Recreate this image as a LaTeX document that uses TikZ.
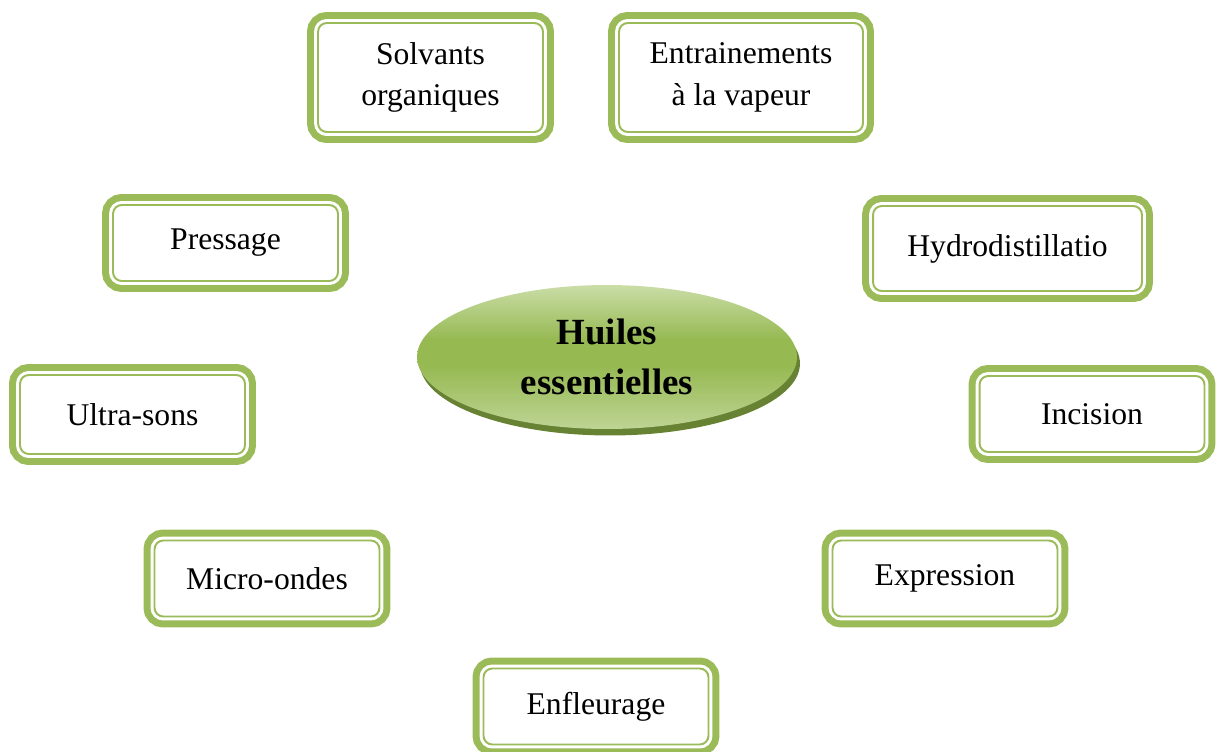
\documentclass[tikz,border=0pt]{standalone}
\usepackage{fontspec}
\setmainfont{Liberation Serif}
\usepackage{xcolor}
\usetikzlibrary{shapes.geometric,shadows,positioning}
\definecolor{vert}{RGB}{155,187,89}
\definecolor{vertmilieu}{RGB}{150,185,82}
\definecolor{vertclair}{RGB}{202,221,167}
\definecolor{vertbas}{RGB}{190,212,148}
\definecolor{vertfonce}{RGB}{104,130,52}
\pgfdeclareverticalshading{huile}{100bp}{color(0bp)=(vertbas); color(25bp)=(vertbas); color(47bp)=(vertmilieu); color(56bp)=(vertmilieu); color(75bp)=(vertclair); color(100bp)=(vertclair)}

\begin{document}
\begin{tikzpicture}[x=0.02cm, y=-0.02cm]
	\tikzstyle{methode} = [rectangle, rounded corners=5pt, draw=vert, line width=1.1pt, fill=white, align=center, font=\fontsize{18}{23.5}\selectfont, minimum width=4.5cm, minimum height=1.52cm, preaction={draw=vert, line width=12.5pt}, preaction={draw=white, line width=4.5pt}]
	\tikzstyle{centre} = [ellipse, align=center, shading=huile, font=\bfseries\fontsize{21}{28.5}\selectfont, minimum width=7.6cm, minimum height=2.88cm, drop shadow={shadow xshift=0.06cm, shadow yshift=-0.13cm, fill=vertfonce, opacity=1}]

\useasboundingbox (0,0) rectangle (1217,751);
\clip (0,0) rectangle (1217,751);

\node[centre] (0) at (607, 357) {Huiles\\essentielles};

\node[methode, minimum height=2.18cm] (1) at (430.5, 77.5) {Solvants\\organiques};
\node[methode, minimum width=4.88cm, minimum height=2.18cm] (2) at (741, 77.5) {Entrainements\\à la vapeur};
\node[methode] (3) at (225.5, 243) {Pressage};
\node[methode, minimum width=5.38cm, minimum height=1.7cm] (4) at (1007.5, 248.5) {Hydrodistillatio};
\node[methode, minimum height=1.58cm] (5) at (132.5, 414.5) {Ultra-sons};
\node[methode, minimum height=1.52cm] (6) at (1092, 414) {Incision};
\node[methode] (7) at (267, 578.5) {Micro-ondes};
\node[methode] (8) at (945, 578.5) {Expression};
\node[methode] (9) at (596, 706.5) {Enfleurage};
\end{tikzpicture}
\end{document}
